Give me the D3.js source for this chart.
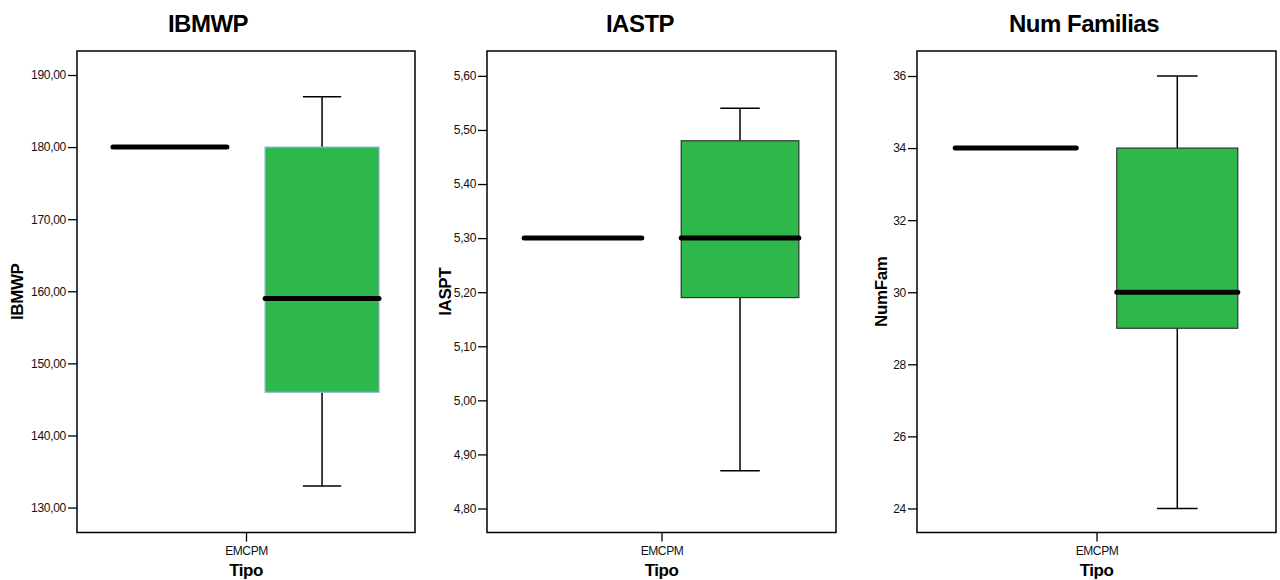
<!DOCTYPE html>
<html>
<head>
<meta charset="utf-8">
<script src="https://cdn.jsdelivr.net/npm/d3@7/dist/d3.min.js"></script>
<style>
  html, body { margin: 0; padding: 0; background: #fff; }
  svg { display: block; font-family: "Liberation Sans", Arial, sans-serif; }
</style>
</head>
<body>
<svg id="chart" width="1280" height="580"></svg>
<script>
// Cluster groups within the single "Tipo" category
const tipoCategories = ["EMCPM"];
const clusterGroups = ["Grupo 1", "Grupo 2"];

// Five-number summaries per cluster group: [min, q1, median, q3, max]
const ibmwpStats = [[180, 180, 180, 180, 180], [133, 146, 159, 180, 187]];
const iasptStats = [[5.30, 5.30, 5.30, 5.30, 5.30], [4.87, 5.19, 5.30, 5.48, 5.54]];
const numFamStats = [[34, 34, 34, 34, 34], [24, 29, 30, 34, 36]];

// Axis ranges and tick values
const ibmwpDomain = [126.54, 193.33];
const iasptDomain = [4.7556, 5.646];
const numFamDomain = [23.333, 36.694];
const ibmwpTicks = [130, 140, 150, 160, 170, 180, 190];
const iasptTicks = [4.8, 4.9, 5.0, 5.1, 5.2, 5.3, 5.4, 5.5, 5.6];
const numFamTicks = [24, 26, 28, 30, 32, 34, 36];

const titles = ["IBMWP", "IASTP", "Num Familias"];
const yTitles = ["IBMWP", "IASPT", "NumFam"];
const xTitle = "Tipo";

const commaFmt = d => d3.format(".2f")(d).replace(".", ",");
const intFmt = d3.format("d");

const panels = [
  { stats: ibmwpStats, domain: ibmwpDomain, ticks: ibmwpTicks, fmt: commaFmt,
    x0: 77, x1: 415, titleX: 208, yTitleX: 23, boxStroke: "#8cb0da" },
  { stats: iasptStats, domain: iasptDomain, ticks: iasptTicks, fmt: commaFmt,
    x0: 487, x1: 836, titleX: 640, yTitleX: 451, boxStroke: "#333" },
  { stats: numFamStats, domain: numFamDomain, ticks: numFamTicks, fmt: intFmt,
    x0: 917, x1: 1276, titleX: 1084, yTitleX: 887, boxStroke: "#333" }
];

const frameTop = 51, frameBottom = 532.5;
const boxFill = "#2eb84b";
const svg = d3.select("#chart");

panels.forEach((p, i) => {
  const g = svg.append("g");

  const y = d3.scaleLinear().domain(p.domain).range([frameBottom, frameTop]);
  const xCat = d3.scalePoint().domain(tipoCategories).range([p.x0, p.x1]).padding(0.5);
  const xGroup = d3.scaleBand().domain(clusterGroups).range([p.x0, p.x1])
    .paddingInner(0.251).paddingOuter(0.2365);
  const bw = xGroup.bandwidth();

  // Title
  g.append("text")
    .attr("x", p.titleX).attr("y", 32)
    .attr("text-anchor", "middle")
    .attr("font-size", 24).attr("font-weight", "bold")
    .attr("letter-spacing", -0.5)
    .text(titles[i]);

  // Y axis
  const yAxis = g.append("g")
    .attr("transform", `translate(${p.x0},0)`)
    .call(d3.axisLeft(y).tickValues(p.ticks).tickFormat(p.fmt).tickSize(9).tickPadding(2));
  yAxis.select(".domain").remove();
  yAxis.selectAll(".tick line").attr("stroke", "#000").attr("stroke-width", 1.3);
  yAxis.selectAll(".tick text").attr("font-size", 12).attr("fill", "#111")
    .attr("font-family", "'Liberation Sans', Arial, sans-serif").attr("letter-spacing", -0.3);

  // X axis
  const xAxis = g.append("g")
    .attr("transform", `translate(0,${frameBottom})`)
    .call(d3.axisBottom(xCat).tickSize(9).tickPadding(5));
  xAxis.select(".domain").remove();
  xAxis.selectAll(".tick line").attr("stroke", "#000").attr("stroke-width", 1.3);
  xAxis.selectAll(".tick text").attr("font-size", 12).attr("fill", "#111")
    .attr("font-family", "'Liberation Sans', Arial, sans-serif").attr("letter-spacing", -0.4);

  // Axis titles
  g.append("text")
    .attr("transform", `translate(${p.yTitleX},${(frameTop + frameBottom) / 2}) rotate(-90)`)
    .attr("text-anchor", "middle")
    .attr("font-size", 17).attr("font-weight", "bold")
    .attr("letter-spacing", -0.4)
    .text(yTitles[i]);
  g.append("text")
    .attr("x", xCat(tipoCategories[0])).attr("y", 576)
    .attr("text-anchor", "middle")
    .attr("font-size", 17).attr("font-weight", "bold")
    .attr("letter-spacing", -0.5)
    .text(xTitle);

  // Boxes
  p.stats.forEach((s, k) => {
    const [mn, q1, med, q3, mx] = s;
    const bx = xGroup(clusterGroups[k]);
    const cx = bx + bw / 2;
    const capHalf = bw * 0.168;
    const bg = g.append("g");

    if (mx > q3) {
      bg.append("line").attr("x1", cx).attr("x2", cx).attr("y1", y(q3)).attr("y2", y(mx))
        .attr("stroke", "#000").attr("stroke-width", 1.5);
      bg.append("line").attr("x1", cx - capHalf).attr("x2", cx + capHalf).attr("y1", y(mx)).attr("y2", y(mx))
        .attr("stroke", "#000").attr("stroke-width", 1.5);
    }
    if (mn < q1) {
      bg.append("line").attr("x1", cx).attr("x2", cx).attr("y1", y(q1)).attr("y2", y(mn))
        .attr("stroke", "#000").attr("stroke-width", 1.5);
      bg.append("line").attr("x1", cx - capHalf).attr("x2", cx + capHalf).attr("y1", y(mn)).attr("y2", y(mn))
        .attr("stroke", "#000").attr("stroke-width", 1.5);
    }
    if (q3 > q1) {
      bg.append("rect")
        .attr("x", bx).attr("y", y(q3))
        .attr("width", bw).attr("height", y(q1) - y(q3))
        .attr("fill", boxFill).attr("stroke", p.boxStroke).attr("stroke-width", 1.2);
    }
    bg.append("line")
      .attr("x1", bx).attr("x2", bx + bw)
      .attr("y1", y(med)).attr("y2", y(med))
      .attr("stroke", "#000").attr("stroke-width", 5).attr("stroke-linecap", "round");
  });

  // Frame
  g.append("rect")
    .attr("x", p.x0).attr("y", frameTop)
    .attr("width", p.x1 - p.x0).attr("height", frameBottom - frameTop)
    .attr("fill", "none").attr("stroke", "#000").attr("stroke-width", 1.5);
});
</script>
</body>
</html>
